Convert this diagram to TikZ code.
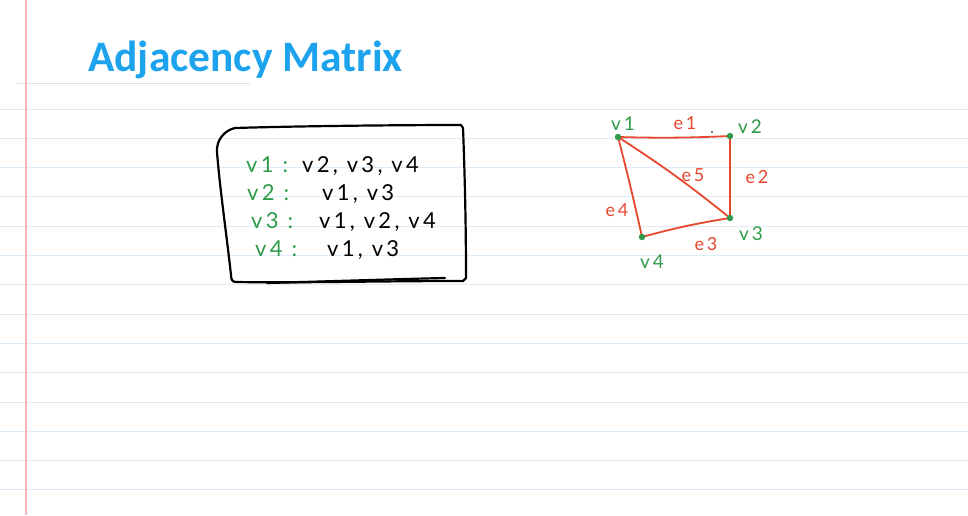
\documentclass[tikz,border=0pt]{standalone}
\usepackage{fontspec}
\setmainfont{Lato}
\newfontfamily\titlefont{Carlito}
\newfontfamily\handfont[LetterSpace=15]{Lato}
\usepackage{xcolor}
\definecolor{NoteBlue}{HTML}{1DA3EE}
\definecolor{RuleBlue}{HTML}{DDECF8}
\definecolor{MarginRed}{HTML}{F6B4B4}
\definecolor{InkGreen}{HTML}{2E9B4A}
\definecolor{InkRed}{HTML}{E8472F}
\usepackage{tikz}
\usetikzlibrary{calc, arrows.meta, positioning}

\begin{document}
\begin{tikzpicture}[x=1pt, y=-1pt,
  ink/.style={line width=2.2pt, line cap=round, line join=round},
  rowlabel/.style={anchor=base west, inner sep=0pt, text=InkGreen, font=\handfont\fontsize{22}{22}\selectfont},
  rowlist/.style={anchor=base west, inner sep=0pt, text=black, font=\handfont\fontsize{22}{22}\selectfont},
  vlabel/.style={inner sep=0pt, text=InkGreen, font=\handfont\fontsize{19}{19}\selectfont},
  elabel/.style={inner sep=0pt, text=InkRed, font=\handfont\fontsize{18}{18}\selectfont}]
\useasboundingbox (0,0) rectangle (968,515);
\fill[white] (0,0) rectangle (968,515);

% Ruled paper
\foreach \i in {0,...,13}
  \draw[RuleBlue, line width=1pt] (0,{109+29.3*\i}) -- (968,{109+29.3*\i});
\draw[black!12, line width=0.8pt] (17,83) -- (250,83);
\draw[MarginRed, line width=1.2pt] (26,0) -- (26,515);

% Title
\node[anchor=base west, inner sep=0pt, text=NoteBlue, font=\titlefont\bfseries\fontsize{43.5}{43.5}\selectfont]
  (title) at (88,71) {Adjacency Matrix};

% Adjacency list box
\draw[ink] (235,128) .. controls (300,126) and (400,125) .. (461,125) -- (463,128)
  .. controls (465,180) and (466,230) .. (466,278) -- (463,281)
  .. controls (380,281) and (300,283) .. (236,282)
  .. controls (232,282) and (231,279) .. (231,275)
  .. controls (226,230) and (220,190) .. (217,152)
  .. controls (216,140) and (225,130) .. (235,128) -- cycle;
\draw[ink] (267,283) .. controls (340,281) and (400,279) .. (445,278);

\node[rowlabel] (l1) at (246,172) {v1 :};
\node[rowlist]  (r1) at (302,172) {v2, v3, v4};
\node[rowlabel] (l2) at (247,200) {v2 :};
\node[rowlist]  (r2) at (322,200) {v1, v3};
\node[rowlabel] (l3) at (251,228) {v3 :};
\node[rowlist]  (r3) at (319,228) {v1, v2, v4};
\node[rowlabel] (l4) at (255,256) {v4 :};
\node[rowlist]  (r4) at (327,256) {v1, v3};

% Graph
\coordinate (v1) at (618,137);
\coordinate (v2) at (730,136);
\coordinate (v3) at (730,218);
\coordinate (v4) at (642,237);

\draw[InkRed, line width=1.8pt, line cap=round]
  (v1) to[bend right=2] (v2)
  (v2) -- (v3)
  (v3) to[bend right=3] (v4)
  (v4) to[bend right=1] (v1)
  (v1) to[bend left=3] (v3);

\foreach \v in {v1,v2,v3,v4}
  \fill[InkGreen] (\v) circle (3.2);
\fill[black!70] (712,132) circle (1.2);

\node[vlabel] (n1) at (623,124) {v1};
\node[vlabel] (n2) at (750,127) {v2};
\node[vlabel] (n3) at (751,234) {v3};
\node[vlabel] (n4) at (652,262) {v4};
\node[elabel] (m1) at (685,123) {e1};
\node[elabel] (m2) at (757,177) {e2};
\node[elabel] (m3) at (706,244) {e3};
\node[elabel] (m4) at (617,210) {e4};
\node[elabel] (m5) at (693,175) {e5};
\end{tikzpicture}
\end{document}
